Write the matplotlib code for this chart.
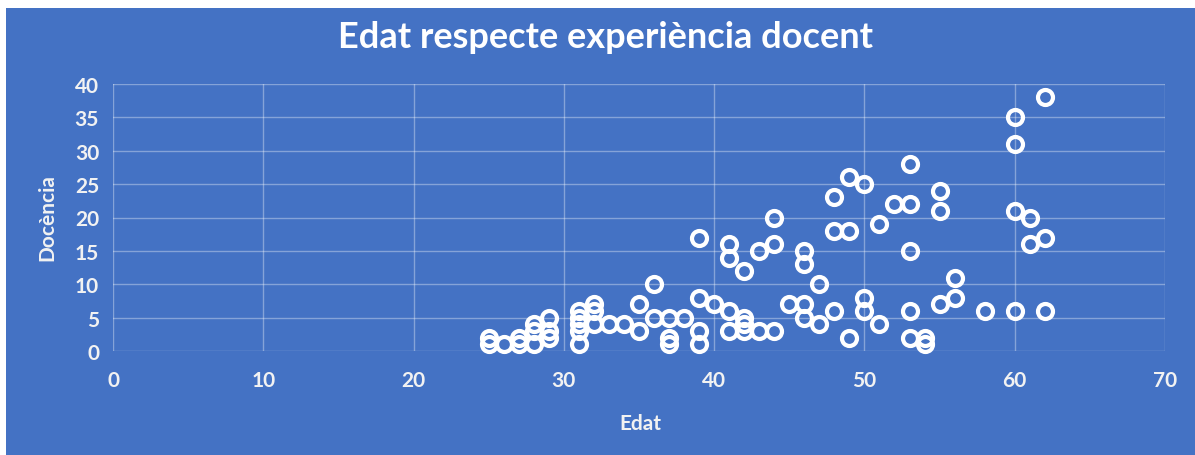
import matplotlib.pyplot as plt
from matplotlib.patches import Rectangle

# Edat (x) i anys de docència (y), llegits del gràfic
edat = [25, 25, 26, 27, 27, 28, 28, 28, 29, 29, 29,
        31, 31, 31, 31, 31, 32, 32, 32, 33, 34, 35, 35,
        36, 36, 37, 37, 37, 38, 39, 39, 39, 39, 40,
        41, 41, 41, 41, 42, 42, 42, 42, 43, 43, 44, 44, 44,
        45, 46, 46, 46, 46, 47, 47, 48, 48, 48,
        49, 49, 49, 50, 50, 50, 51, 51, 52,
        53, 53, 53, 53, 53, 54, 54, 55, 55, 55, 56, 56, 58,
        60, 60, 60, 60, 61, 61, 62, 62, 62]
docencia = [2, 1, 1, 2, 1, 4, 3, 1, 5, 3, 2,
            6, 5, 4, 3, 1, 7, 6, 4, 4, 4, 7, 3,
            10, 5, 5, 2, 1, 5, 17, 8, 3, 1, 7,
            16, 14, 6, 3, 12, 5, 4, 3, 15, 3, 20, 16, 3,
            7, 15, 13, 7, 5, 10, 4, 23, 18, 6,
            26, 18, 2, 25, 8, 6, 19, 4, 22,
            28, 22, 15, 6, 2, 2, 1, 24, 21, 7, 11, 8, 6,
            35, 31, 21, 6, 20, 16, 38, 17, 6]

blue = "#4472C4"
txt = "#F2F2F2"
font = "Lato"

fig = plt.figure(figsize=(11.95, 4.56), dpi=100)
fig.patch.set_facecolor("white")
fig.patches.append(Rectangle((6 / 1195, 0), 1, 1 - 9 / 456, transform=fig.transFigure,
                             facecolor=blue, edgecolor="none", zorder=-10))

ax = fig.add_axes([113 / 1195, 1 - 352 / 456, (1165 - 113) / 1195, (352 - 85) / 456])
ax.set_facecolor(blue)
ax.plot(edat, docencia, linestyle="none", marker="o", markersize=10.8,
        markerfacecolor="none", markeredgecolor="white", markeredgewidth=3.0,
        clip_on=False, zorder=3)

ax.set_xlim(0, 70)
ax.set_ylim(0, 40)
ax.set_xticks(range(0, 71, 10))
ax.set_yticks(range(0, 41, 5))
ax.grid(True, color="white", alpha=0.35, linewidth=1)
ax.set_axisbelow(True)
for s in ax.spines.values():
    s.set_visible(False)
ax.tick_params(length=0, colors=txt, labelsize=15)
ax.tick_params(axis="x", pad=14)
ax.tick_params(axis="y", pad=10)
for lab in ax.get_xticklabels() + ax.get_yticklabels():
    lab.set_fontfamily(font)
    lab.set_fontweight("bold")

fig.text(605 / 1195, 1 - 37 / 456, "Edat respecte experiència docent", ha="center", va="center",
         color="white", fontsize=26, fontweight="bold", fontfamily=font)
fig.text(640 / 1195, 1 - 424 / 456, "Edat", ha="center", va="center",
         color=txt, fontsize=15, fontweight="bold", fontfamily=font)
fig.text(47 / 1195, 1 - 218 / 456, "Docència", ha="center", va="center", rotation=90,
         color=txt, fontsize=15, fontweight="bold", fontfamily=font)

fig.savefig("out.png", dpi=100)
